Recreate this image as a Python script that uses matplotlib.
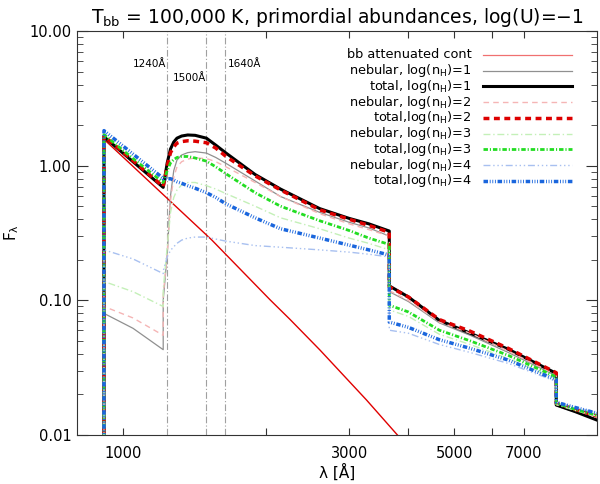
import numpy as np
import matplotlib
matplotlib.use("Agg")
import matplotlib.pyplot as plt

plt.rcParams['font.family'] = ['DejaVu Sans']

# wavelength grid (Angstrom); repeated entries are the jumps (Lyman, Ly-alpha, Balmer, Paschen)
WAVE = [912, 912, 1050, 1216, 1216, 1240, 1260, 1280, 1300, 1330, 1370, 1420, 1500, 1570, 1650,
        1900, 2150, 2600, 3000, 3300, 3646, 3646, 4000, 4650, 5400, 6500, 8204, 8204, 9000, 10000]

# attenuated black body continuum
BB_WAVE = [912, 912, 1539, 2043, 2250, 2603, 3264, 3793, 4200]
BB_FLUX = [1e-3, 1.57, 0.281, 0.101, 0.0723, 0.0428, 0.0182, 0.0100, 0.0067]

NEB_1 = [1e-3, 0.080, 0.062, 0.043, 0.10, 0.22, 0.60, 0.92, 1.10, 1.20, 1.25, 1.27, 1.24, 1.15, 1.04,
         0.77, 0.59, 0.45, 0.38, 0.345, 0.30, 0.116, 0.098, 0.068, 0.055, 0.041, 0.0275, 0.0165, 0.0148, 0.0130]
TOT_1 = [1e-3, 1.64, 1.07, 0.69, 0.69, 1.05, 1.33, 1.50, 1.60, 1.66, 1.69, 1.68, 1.60, 1.42, 1.24,
         0.86, 0.67, 0.48, 0.406, 0.37, 0.327, 0.128, 0.106, 0.071, 0.057, 0.0433, 0.0287, 0.0167, 0.0149, 0.0129]
NEB_2 = [1e-3, 0.090, 0.074, 0.055, 0.11, 0.22, 0.55, 0.82, 0.98, 1.07, 1.12, 1.14, 1.13, 1.07, 0.98,
         0.75, 0.59, 0.44, 0.37, 0.335, 0.30, 0.118, 0.100, 0.069, 0.057, 0.042, 0.028, 0.017, 0.0153, 0.0135]
TOT_2 = [1e-3, 1.66, 1.09, 0.70, 0.70, 1.00, 1.25, 1.38, 1.47, 1.51, 1.53, 1.52, 1.48, 1.35, 1.17,
         0.84, 0.66, 0.47, 0.40, 0.36, 0.32, 0.126, 0.106, 0.072, 0.059, 0.044, 0.029, 0.0172, 0.0155, 0.0138]
NEB_3 = [1e-3, 0.138, 0.116, 0.090, 0.12, 0.25, 0.45, 0.58, 0.66, 0.72, 0.75, 0.75, 0.71, 0.67, 0.62,
         0.50, 0.41, 0.34, 0.29, 0.265, 0.237, 0.085, 0.076, 0.056, 0.047, 0.037, 0.026, 0.0168, 0.0152, 0.0138]
TOT_3 = [1e-3, 1.70, 1.13, 0.75, 0.75, 0.92, 1.05, 1.11, 1.15, 1.17, 1.17, 1.14, 1.08, 0.98, 0.87,
         0.63, 0.50, 0.39, 0.33, 0.29, 0.26, 0.092, 0.082, 0.060, 0.050, 0.039, 0.027, 0.0172, 0.0155, 0.0140]
NEB_4 = [1e-3, 0.237, 0.203, 0.158, 0.165, 0.21, 0.235, 0.25, 0.265, 0.28, 0.29, 0.295, 0.295, 0.285, 0.275,
         0.255, 0.248, 0.237, 0.228, 0.22, 0.21, 0.060, 0.057, 0.047, 0.041, 0.034, 0.025, 0.0175, 0.016, 0.0146]
TOT_4 = [1e-3, 1.82, 1.22, 0.805, 0.80, 0.80, 0.80, 0.78, 0.76, 0.74, 0.71, 0.68, 0.63, 0.58, 0.52,
         0.41, 0.34, 0.29, 0.257, 0.237, 0.217, 0.069, 0.063, 0.051, 0.044, 0.036, 0.0257, 0.0175, 0.0160, 0.0145]

LINE_WAVES = [1240, 1500, 1640]
X_TICKS = [1000, 2000, 3000, 4000, 5000, 6000, 7000]
X_LABELS = ['1000', '', '3000', '', '5000', '', '7000']
Y_TICKS = [0.01, 0.1, 1.0, 10.0]
Y_LABELS = ['0.01', '0.10', '1.00', '10.00']

LEGEND = [
    ("bb attenuated cont", dict(color='#f07070', lw=0.9, ls='-')),
    ("nebular, log(n$_\\mathregular{H}$)=1", dict(color='#909090', lw=0.9, ls='-')),
    ("total, log(n$_\\mathregular{H}$)=1", dict(color='black', lw=2.2, ls='-')),
    ("nebular, log(n$_\\mathregular{H}$)=2", dict(color='#f5b5b5', lw=1.0, ls=(0, (4, 3)))),
    ("total,log(n$_\\mathregular{H}$)=2", dict(color='#dd0000', lw=2.5, ls=(0, (1.7, 1.3)))),
    ("nebular, log(n$_\\mathregular{H}$)=3", dict(color='#c4f0b8', lw=1.0, ls=(0, (5, 2, 1, 2)))),
    ("total,log(n$_\\mathregular{H}$)=3", dict(color='#22dd22', lw=2.0, ls=(0, (1.6, 0.7, 0.4, 0.7)))),
    ("nebular, log(n$_\\mathregular{H}$)=4", dict(color='#a8c0f0', lw=1.0, ls=(0, (5, 2, 1, 2, 1, 2, 1, 2)))),
    ("total,log(n$_\\mathregular{H}$)=4", dict(color='#1a66dd', lw=2.5, ls=(0, (1.3, 0.5, 0.25, 0.5, 0.25, 0.5, 0.25, 0.5)))),
]

fig = plt.figure(figsize=(6.0, 4.84), dpi=100)
ax = fig.add_axes([77 / 600, 49 / 484, 520 / 600, 404 / 484])
ax.set_xscale('log'); ax.set_yscale('log')
ax.set_xlim(800, 10000); ax.set_ylim(0.01, 10)

for w in LINE_WAVES:
    ax.axvline(w, color='#a0a0a0', lw=0.8, ls=(0, (6, 2, 1, 2)), zorder=1)

series = [NEB_1, TOT_1, NEB_2, TOT_2, NEB_3, TOT_3, NEB_4, TOT_4]
ax.plot(BB_WAVE, BB_FLUX, color='#e00000', lw=1.0, zorder=2)
for k, (flux, (_, st)) in enumerate(zip(series, LEGEND[1:])):
    ax.plot(WAVE, flux, zorder=3 + k, **st)

ax.text(1232, 5.7, "1240Å", ha='right', va='center', fontsize=7.5)
ax.text(1495, 4.45, "1500Å", ha='right', va='center', fontsize=7.5)
ax.text(1665, 5.7, "1640Å", ha='left', va='center', fontsize=7.5)

# legend: text right-aligned with sample line to the right
for i, (label, st) in enumerate(LEGEND):
    yy = 0.9406 - i * 0.0389
    ax.text(0.759, yy, label, transform=ax.transAxes, ha='right', va='center', fontsize=9.3)
    ax.plot([0.781, 0.951], [yy, yy], transform=ax.transAxes, **st)

ax.xaxis.set_major_locator(matplotlib.ticker.FixedLocator(X_TICKS))
ax.xaxis.set_major_formatter(matplotlib.ticker.FixedFormatter(X_LABELS))
ax.xaxis.set_minor_locator(matplotlib.ticker.NullLocator())
ax.yaxis.set_major_locator(matplotlib.ticker.FixedLocator(Y_TICKS))
ax.yaxis.set_major_formatter(matplotlib.ticker.FixedFormatter(Y_LABELS))
ax.yaxis.set_minor_locator(matplotlib.ticker.LogLocator(base=10, subs=np.arange(2, 10)))
ax.yaxis.set_minor_formatter(matplotlib.ticker.NullFormatter())
ax.tick_params(which='both', direction='in', top=True, right=True, labelsize=10.5, color='#333333')
ax.tick_params(axis='x', which='major', length=5, pad=8)
ax.tick_params(axis='y', which='major', length=8, pad=4)
ax.tick_params(axis='y', which='minor', length=4)
for sp in ax.spines.values():
    sp.set_color('#333333')

ax.set_xlabel("λ [Å]", fontsize=11, labelpad=2)
ax.set_ylabel("F$_\\mathregular{λ}$", fontsize=11, labelpad=6)
ax.set_title("T$_\\mathregular{bb}$ = 100,000 K, primordial abundances, log(U)=−1", fontsize=13.5, pad=6)

fig.savefig("out.png", dpi=100)
